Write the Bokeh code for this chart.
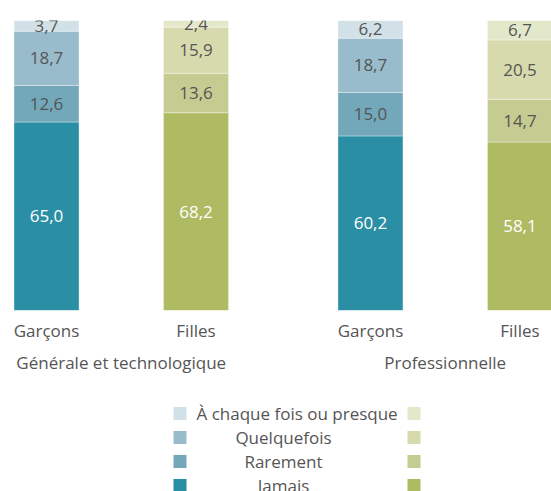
from bokeh.plotting import figure
from bokeh.models import Range1d, LinearAxis, FixedTicker, ColumnDataSource
from bokeh.layouts import column
from bokeh.core.properties import value
from bokeh.embed import file_html
from bokeh.resources import INLINE

# ---- data ----
groups = ["Générale et technologique", "Professionnelle"]
sexes = ["Garçons", "Filles"]
levels = ["Jamais", "Rarement", "Quelquefois", "À chaque fois ou presque"]
# bar order: Générale-Garçons, Générale-Filles, Pro-Garçons, Pro-Filles
jamais = [65.0, 68.2, 60.2, 58.1]
rarement = [12.6, 13.6, 15.0, 14.7]
quelquefois = [18.7, 15.9, 18.7, 20.5]
chaque_fois = [3.7, 2.4, 6.2, 6.7]
series = [jamais, rarement, quelquefois, chaque_fois]

blue = ["#2a8fa4", "#72a8b9", "#98bccb", "#d2e1e8"]
green = ["#afbb62", "#c5cc91", "#d7daad", "#e4e8cb"]

FONT = value("Open Sans")
TXT = "#555555"
GAP = 0.167
BAR_W = 0.435

xs = [gi * (2 + GAP) + si for gi in range(len(groups)) for si in range(len(sexes))]
group_centers = [gi * (2 + GAP) + 0.5 for gi in range(len(groups))]

p = figure(width=551, height=385, x_range=Range1d(-0.3077, 3.378), y_range=Range1d(0, 100),
           output_backend="svg", toolbar_location=None, y_axis_location=None,
           min_border_top=20, min_border_left=0, min_border_right=0, min_border_bottom=75)
p.outline_line_color = None
p.grid.visible = False
p.background_fill_color = "white"

bottom = [0.0] * len(xs)
for k, vals in enumerate(series):
    top = [b + v for b, v in zip(bottom, vals)]
    colors = [blue[k] if i % 2 == 0 else green[k] for i in range(len(xs))]
    src = ColumnDataSource(dict(x=xs, bottom=bottom, top=top, color=colors,
                                ymid=[b + v / 2 for b, v in zip(bottom, vals)],
                                label=[f"{v:.1f}".replace(".", ",") for v in vals]))
    p.vbar(x="x", width=BAR_W, bottom="bottom", top="top", fill_color="color",
           line_color="white", line_alpha=0.35, line_width=1, source=src)
    p.text(x="x", y="ymid", text="label", source=src, text_align="center",
           text_baseline="middle", text_font=FONT, text_font_size="17px",
           text_color="white" if k == 0 else TXT)
    bottom = top

ax = p.xaxis[0]
ax.ticker = FixedTicker(ticks=xs)
ax.major_label_overrides = {x: sexes[i % 2] for i, x in enumerate(xs)}
ax2 = LinearAxis(ticker=FixedTicker(ticks=group_centers),
                 major_label_overrides={c: g for c, g in zip(group_centers, groups)})
p.add_layout(ax2, "below")
for a in (ax, ax2):
    a.axis_line_color = None
    a.major_tick_line_color = None
    a.minor_tick_line_color = None
    a.major_tick_out = 0
    a.major_tick_in = 0
    a.major_label_text_font = "Open Sans"
    a.major_label_text_font_size = "17px"
    a.major_label_text_color = TXT
ax.major_label_standoff = 8
ax2.major_label_standoff = 6

# ---- legend ----
leg = figure(width=551, height=106, x_range=Range1d(0, 551), y_range=Range1d(491, 385),
             output_backend="svg", toolbar_location=None, x_axis_location=None,
             y_axis_location=None, min_border=0)
leg.outline_line_color = None
leg.grid.visible = False

legend_order = list(reversed(range(len(levels))))
rows_y = [413 + 24 * i for i in range(len(levels))]
leg.rect(x=179.5, y=rows_y, width=13, height=13, fill_color=[blue[k] for k in legend_order], line_color=None)
leg.rect(x=413.5, y=rows_y, width=13, height=13, fill_color=[green[k] for k in legend_order], line_color=None)
leg.text(x=[196], y=rows_y[:1], text=[levels[legend_order[0]]], text_align="left",
         text_baseline="middle", text_font=FONT, text_font_size="17px", text_color=TXT)
leg.text(x=283, y=rows_y[1:], text=[levels[k] for k in legend_order[1:]], text_align="center",
         text_baseline="middle", text_font=FONT, text_font_size="17px", text_color=TXT)

layout = column(p, leg)
open("out.html", "w").write(file_html(layout, INLINE))
